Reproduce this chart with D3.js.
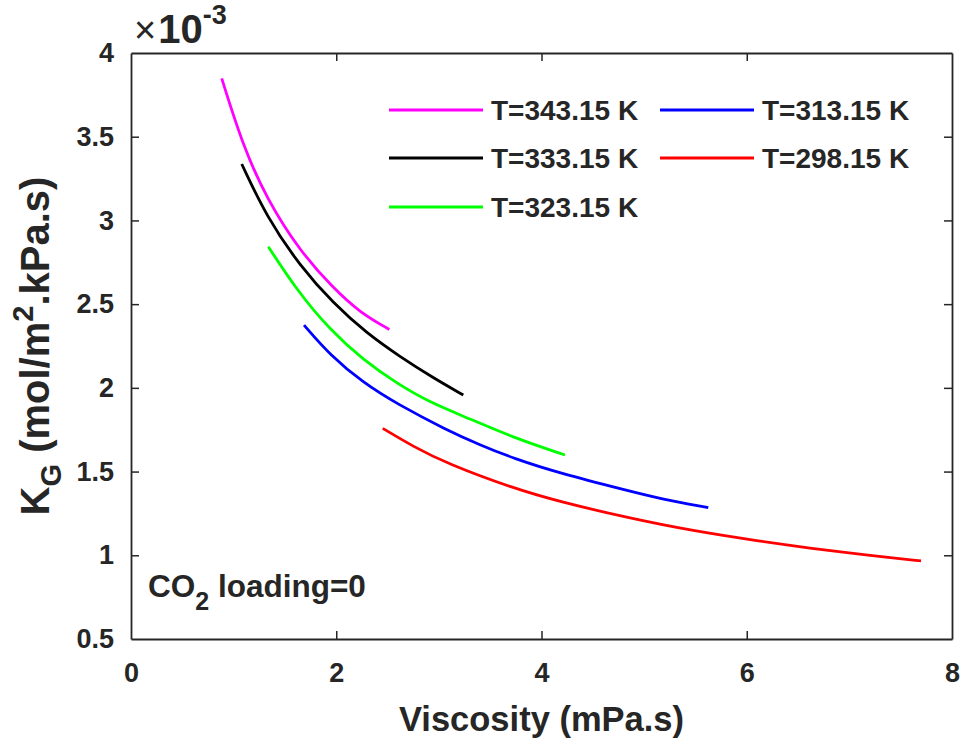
<!DOCTYPE html>
<html><head><meta charset="utf-8">
<script src="https://cdn.jsdelivr.net/npm/d3@7"></script>
<style>
html,body{margin:0;padding:0;background:#fff;}
svg text{font-family:"Liberation Sans",Arial,Helvetica,sans-serif;font-weight:bold;fill:#262626;}
</style></head>
<body>
<svg id="chart" width="963" height="740"></svg>
<script>
// Data (K_G in units of 1e-3 mol/m^2.kPa.s, viscosity in mPa.s)
const seriesNames = ["T=343.15 K","T=333.15 K","T=323.15 K","T=313.15 K","T=298.15 K"];
const seriesColors = ["#ff00ff","#000000","#00ff00","#0000ff","#ff0000"];
const visc343 = [0.884,1.094,1.322,1.647,1.971,2.231,2.517];
const kg343   = [3.848,3.440,3.130,2.815,2.596,2.450,2.349];
const visc333 = [1.079,1.322,1.647,1.971,2.297,2.621,2.946,3.238];
const kg333   = [3.337,3.020,2.728,2.505,2.326,2.186,2.059,1.957];
const visc323 = [1.338,1.615,1.939,2.264,2.589,2.913,3.303,3.725,4.229];
const kg323   = [2.843,2.584,2.346,2.166,2.027,1.912,1.815,1.703,1.599];
const visc313 = [1.686,1.939,2.264,2.589,3.076,3.401,3.725,4.180,4.830,5.155,5.625];
const kg313   = [2.375,2.196,2.030,1.905,1.748,1.659,1.579,1.490,1.388,1.338,1.284];
const visc298 = [2.453,2.751,3.076,3.725,4.180,4.830,5.479,6.129,6.584,7.233,7.698];
const kg298   = [1.758,1.649,1.549,1.400,1.320,1.225,1.145,1.084,1.045,0.996,0.966];
const xTicks = [0,2,4,6,8];
const yTicks = [0.5,1,1.5,2,2.5,3,3.5,4];
const yTickLabels = ["0.5","1","1.5","2","2.5","3","3.5","4"];

const seriesX = [visc343,visc333,visc323,visc313,visc298];
const seriesY = [kg343,kg333,kg323,kg313,kg298];

const svg = d3.select("#chart");
const L=131, R=952, T=53, B=639;
const x = d3.scaleLinear().domain([0,8]).range([L,R]);
const y = d3.scaleLinear().domain([0.5,4]).range([B,T]);
const axisColor = "#262626";

// curves
const line = d3.line().x(d=>x(d[0])).y(d=>y(d[1])).curve(d3.curveBasis);
seriesX.forEach((xs,i)=>{
  const pts = xs.map((v,j)=>[v,seriesY[i][j]]);
  svg.append("path").attr("d",line(pts)).attr("fill","none")
    .attr("stroke",seriesColors[i]).attr("stroke-width",2.8);
});

// axes (MATLAB style box, inward ticks)
const tl = 8;
const gB = svg.append("g").attr("transform",`translate(0,${B})`)
  .call(d3.axisBottom(x).tickValues(xTicks).tickSizeInner(-tl).tickSizeOuter(0).tickPadding(24).tickFormat(d3.format("d")));
const gT = svg.append("g").attr("transform",`translate(0,${T})`)
  .call(d3.axisTop(x).tickValues(xTicks).tickSizeInner(-tl).tickSizeOuter(0).tickFormat(""));
const gL = svg.append("g").attr("transform",`translate(${L},0)`)
  .call(d3.axisLeft(y).tickValues(yTicks).tickSizeInner(-tl).tickSizeOuter(0).tickPadding(17).tickFormat((d,i)=>yTickLabels[i]));
const gR = svg.append("g").attr("transform",`translate(${R},0)`)
  .call(d3.axisRight(y).tickValues(yTicks).tickSizeInner(-tl).tickSizeOuter(0).tickFormat(""));
[gB,gT,gL,gR].forEach(g=>{
  g.selectAll(".domain").attr("stroke",axisColor).attr("stroke-width",1.8);
  g.selectAll(".tick line").attr("stroke",axisColor).attr("stroke-width",1.5);
  g.selectAll("text").attr("font-size",27).attr("font-family","Liberation Sans, Arial, sans-serif").attr("font-weight","bold").attr("fill",axisColor);
});
gB.selectAll(".tick text").attr("dy","0.71em");
[gB,gT].forEach(g=>g.selectAll(".tick").filter(d=>d===0||d===8).select("line").remove());
[gL,gR].forEach(g=>g.selectAll(".tick").filter(d=>d===0.5||d===4).select("line").remove());

// exponent label
const ex = svg.append("text").attr("x",134).attr("y",43);
ex.append("tspan").attr("font-weight","normal").attr("font-size",38).text("\u00d7");
ex.append("tspan").attr("font-size",40).attr("dx",2).text("10");
ex.append("tspan").attr("dy",-19).attr("font-size",27).text("-3");

// axis labels
svg.append("text").attr("x",(L+R)/2).attr("y",731).attr("text-anchor","middle")
  .attr("font-size",34.5).text("Viscosity (mPa.s)");
const yl = svg.append("text").attr("transform",`translate(49,${(T+B)/2}) rotate(-90)`)
  .attr("text-anchor","middle").attr("font-size",40);
yl.append("tspan").text("K");
yl.append("tspan").attr("dy",12).attr("font-size",29).text("G");
yl.append("tspan").attr("dy",-12).text(" (mol/m");
yl.append("tspan").attr("dy",-16).attr("font-size",29).text("2");
yl.append("tspan").attr("dy",16).text(".kPa.s)");

// CO2 loading annotation
const co = svg.append("text").attr("x",148).attr("y",597).attr("font-size",31.5);
co.append("tspan").text("CO");
co.append("tspan").attr("dy",13).attr("font-size",25).text("2");
co.append("tspan").attr("dy",-13).text(" loading=0");

// legend
const legPos = [[389,110],[389,158],[389,207],[660,110],[660,158]];
seriesNames.forEach((n,i)=>{
  const [lx,ly] = legPos[i];
  svg.append("line").attr("x1",lx).attr("x2",lx+94).attr("y1",ly).attr("y2",ly)
    .attr("stroke",seriesColors[i]).attr("stroke-width",2.8);
  svg.append("text").attr("x",lx+102).attr("y",ly).attr("dy","0.36em")
    .attr("font-size",28).attr("fill","#000").text(n);
});
</script>
</body></html>
